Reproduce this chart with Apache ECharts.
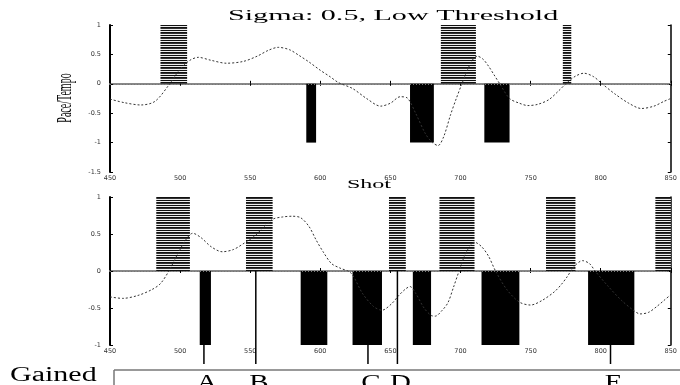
<!DOCTYPE html>
<html>
<head>
<meta charset="utf-8">
<script src="https://cdn.jsdelivr.net/npm/echarts@6/dist/echarts.min.js"></script>
<style>
  html, body { margin: 0; padding: 0; background: #fff; }
  #chart { width: 680px; height: 385px; }
</style>
</head>
<body>
<div id="chart"></div>
<script>
  // bars: [start shot, end shot, value]  (+1 = hatched, -1 = solid)
  var topBars = [
    [486, 505, 1], [590, 597, -1], [664, 681, -1], [686, 711, 1], [717, 735, -1], [773, 779, 1]
  ];
  var bottomBars = [
    [483, 507, 1], [514, 522, -1], [547, 566, 1], [586, 605, -1], [623, 644, -1], [649, 661, 1],
    [666, 679, -1], [685, 710, 1], [715, 742, -1], [761, 782, 1], [791, 824, -1], [839, 850, 1]
  ];

  // smoothed pace curves [shot, value]
  var topCurve = [
    [450, -0.26], [460, -0.32], [472, -0.36], [482, -0.3], [492, -0.02], [500, 0.25], [507, 0.4],
    [513, 0.45], [522, 0.4], [533, 0.35], [545, 0.38], [555, 0.47], [563, 0.57], [570, 0.62],
    [578, 0.58], [585, 0.48], [592, 0.37], [600, 0.23], [607, 0.12], [613, 0.02], [623, -0.08],
    [633, -0.25], [643, -0.38], [650, -0.33], [657, -0.22], [662, -0.24], [668, -0.5], [675, -0.85],
    [680, -1.0], [684, -1.05], [688, -0.9], [693, -0.52], [697, -0.25], [701, 0], [705, 0.24],
    [709, 0.42], [712, 0.47], [716, 0.42], [720, 0.3], [724, 0.15], [728, 0], [735, -0.25],
    [742, -0.33], [748, -0.37], [755, -0.35], [763, -0.27], [770, -0.12], [776, 0.02], [782, 0.13],
    [788, 0.18], [795, 0.12], [801, 0], [810, -0.17], [820, -0.33], [829, -0.42], [838, -0.38],
    [845, -0.3], [850, -0.25]
  ];
  var bottomCurve = [
    [450, -0.35], [459, -0.37], [470, -0.33], [480, -0.25], [486, -0.17], [492, 0], [498, 0.22],
    [504, 0.42], [509, 0.51], [515, 0.45], [522, 0.33], [530, 0.26], [538, 0.29], [546, 0.38],
    [553, 0.47], [560, 0.6], [566, 0.7], [573, 0.73], [580, 0.74], [586, 0.72], [592, 0.6],
    [597, 0.42], [602, 0.26], [608, 0.1], [614, 0.04], [622, -0.03], [630, -0.3], [638, -0.48],
    [644, -0.53], [651, -0.44], [656, -0.33], [661, -0.24], [664, -0.21], [668, -0.3], [674, -0.5],
    [679, -0.6], [682, -0.61], [687, -0.53], [691, -0.43], [695, -0.22], [699, 0], [704, 0.25],
    [710, 0.39], [715, 0.33], [720, 0.2], [725, 0], [733, -0.25], [742, -0.42], [750, -0.46],
    [758, -0.4], [767, -0.28], [772, -0.18], [776, -0.08], [781, 0.06], [787, 0.14], [792, 0.1],
    [796, 0], [805, -0.2], [815, -0.4], [824, -0.54], [828, -0.58], [834, -0.56], [840, -0.48],
    [845, -0.4], [850, -0.32]
  ];

  // gained events
  var eventShots = [517, 554, 634, 655, 807];
  var eventStarts = [-1, 0, -1, 0, -1];
  var eventLabels = ['A', 'B', 'C', 'D', 'E'];

  var xTicks = { min: 450, max: 850, interval: 50 };

  // hatch pattern for the positive bars (dark stripes with thin light gaps)
  var stripeRows = ['#111', '#eee', '#111', '#333', '#eee'];
  var pat = document.createElement('canvas');
  pat.width = 2; pat.height = stripeRows.length;
  var pctx = pat.getContext('2d');
  stripeRows.forEach(function (c, i) { pctx.fillStyle = c; pctx.fillRect(0, i, 2, 1); });
  var hatch = { image: pat, repeat: 'repeat' };

  var serif = '"Liberation Serif", "Times New Roman", serif';
  var tickFont = { fontSize: 6.5, fontFamily: 'DejaVu Sans', color: '#333' };

  function barItem(params, api) {
    var p0 = api.coord([api.value(0), 0]);
    var p1 = api.coord([api.value(1), api.value(2)]);
    return {
      type: 'rect',
      shape: { x: p0[0], y: Math.min(p0[1], p1[1]), width: p1[0] - p0[0], height: Math.abs(p1[1] - p0[1]) },
      style: { fill: api.value(2) > 0 ? hatch : '#000' }
    };
  }

  function eventItem(params, api) {
    var top = api.coord([api.value(0), api.value(1)]);
    var bot = api.coord([api.value(0), -1]);
    return {
      type: 'group',
      children: [
        { type: 'line', shape: { x1: top[0], y1: top[1], x2: top[0], y2: bot[1] + 19 },
          style: { stroke: '#000', lineWidth: 1.5 } },
        { type: 'text', x: top[0] + 3, y: bot[1] + 29, scaleX: 1.45,
          style: { text: eventLabels[params.dataIndex], font: '20px ' + serif, fill: '#000',
            align: 'center', textAlign: 'center', verticalAlign: 'top', textVerticalAlign: 'top' } }
      ]
    };
  }

  function xAxes(gi) {
    return [
      { gridIndex: gi, type: 'value', position: 'bottom', min: xTicks.min, max: xTicks.max, interval: xTicks.interval,
        axisLine: { lineStyle: { color: '#000', width: 1 } },
        axisTick: { inside: true, length: 3, lineStyle: { color: '#000' } },
        axisLabel: Object.assign({ margin: 3 }, tickFont),
        splitLine: { show: false } },
      { gridIndex: gi, type: 'value', position: 'top', min: xTicks.min, max: xTicks.max, interval: xTicks.interval,
        axisLine: { lineStyle: { color: '#888', width: 2 } },
        axisTick: { inside: true, length: 2, lineStyle: { color: '#000' } },
        axisLabel: { show: false }, splitLine: { show: false } }
    ];
  }
  function yAxes(gi, min) {
    return [
      { gridIndex: gi, type: 'value', position: 'left', min: min, max: 1, interval: 0.5,
        axisLine: { lineStyle: { color: '#000', width: 2 } },
        axisTick: { inside: true, length: 3, lineStyle: { color: '#000' } },
        axisLabel: Object.assign({ margin: 9 }, tickFont),
        splitLine: { show: false } },
      { gridIndex: gi, type: 'value', position: 'right', min: min, max: 1, interval: 0.5,
        axisLine: { lineStyle: { color: '#000', width: 1.5 } },
        axisTick: { inside: true, length: 3, lineStyle: { color: '#000' } },
        axisLabel: { show: false }, splitLine: { show: false } }
    ];
  }

  var zeroLine = {
    symbol: 'none', silent: true, label: { show: false },
    lineStyle: { type: [1, 2], color: '#777', width: 1 },
    data: [{ yAxis: 0 }]
  };
  var curveStyle = { type: [2, 2], color: '#333', width: 1 };

  var option = {
    animation: false,
    backgroundColor: '#fff',
    grid: [
      { left: 110, right: 6, top: 25, height: 147 },
      { left: 110, right: 6, top: 197, height: 148 }
    ],
    xAxis: xAxes(0).concat(xAxes(1)),
    yAxis: yAxes(0, -1.5).concat(yAxes(1, -1)),
    series: [
      { type: 'custom', xAxisIndex: 0, yAxisIndex: 0, renderItem: barItem, data: topBars, z: 2,
        encode: { x: [0, 1], y: 2 } },
      { type: 'line', xAxisIndex: 0, yAxisIndex: 0, data: topCurve, showSymbol: false, smooth: 0.3,
        lineStyle: curveStyle, z: 3, markLine: zeroLine },
      { type: 'custom', xAxisIndex: 2, yAxisIndex: 2, renderItem: barItem, data: bottomBars, z: 2,
        encode: { x: [0, 1], y: 2 } },
      { type: 'line', xAxisIndex: 2, yAxisIndex: 2, data: bottomCurve, showSymbol: false, smooth: 0.3,
        lineStyle: curveStyle, z: 3, markLine: zeroLine },
      { type: 'custom', xAxisIndex: 2, yAxisIndex: 2, renderItem: eventItem, z: 4, clip: false,
        data: eventShots.map(function (s, i) { return [s, eventStarts[i]]; }),
        encode: { x: 0, y: 1 } }
    ],
    graphic: [
      { type: 'text', x: 228, y: 16, scaleX: 2.15,
        style: { text: 'Sigma: 0.5, Low Threshold', font: '14px ' + serif, fill: '#000',
          verticalAlign: 'middle', textVerticalAlign: 'middle' } },
      { type: 'text', x: 347, y: 185, scaleX: 2.0,
        style: { text: 'Shot', font: '12px ' + serif, fill: '#000',
          verticalAlign: 'middle', textVerticalAlign: 'middle' } },
      { type: 'text', x: 66, y: 98, rotation: Math.PI / 2, scaleY: 2.0,
        style: { text: 'Pace/Tempo', font: '10px ' + serif, fill: '#000',
          align: 'center', textAlign: 'center', verticalAlign: 'middle', textVerticalAlign: 'middle' } },
      { type: 'text', x: 10, y: 366, scaleX: 1.5,
        style: { text: 'Gained', font: '20px ' + serif, fill: '#000',
          verticalAlign: 'top', textVerticalAlign: 'top' } },
      { type: 'line', shape: { x1: 114, y1: 370, x2: 114, y2: 385 }, style: { stroke: '#777', lineWidth: 1.5 } },
      { type: 'line', shape: { x1: 114, y1: 370, x2: 680, y2: 370 }, style: { stroke: '#777', lineWidth: 1.5 } }
    ]
  };

  echarts.init(document.getElementById('chart')).setOption(option);
</script>
</body>
</html>
